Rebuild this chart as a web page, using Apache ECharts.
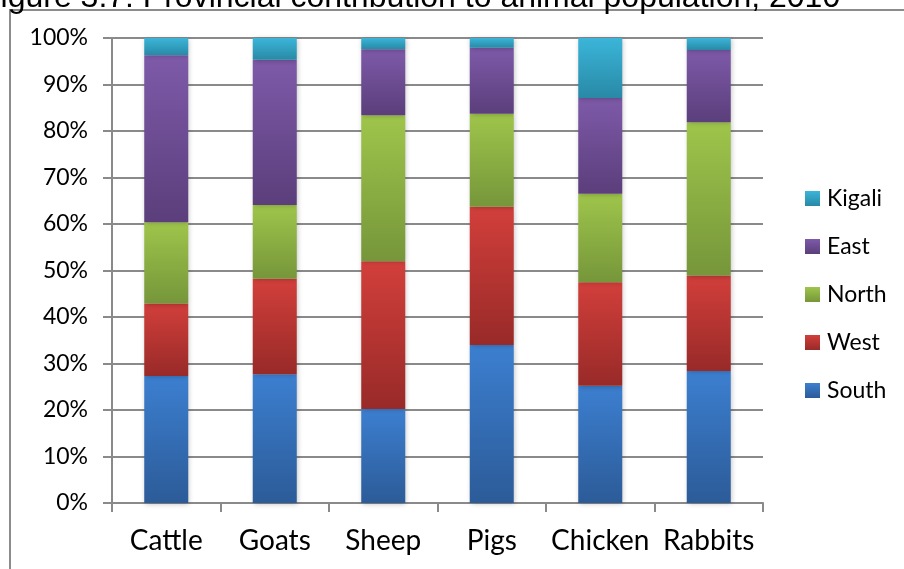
<!DOCTYPE html>
<html>
<head>
<meta charset="utf-8">
<script src="https://cdn.jsdelivr.net/npm/echarts@6/dist/echarts.min.js"></script>
<style>
  html, body { margin: 0; padding: 0; background: #fff; }
  #chart { width: 904px; height: 569px; }
</style>
</head>
<body>
<div id="chart"></div>
<script>
// Provincial share (%) of each animal population, 2010
const categories = ['Cattle', 'Goats', 'Sheep', 'Pigs', 'Chicken', 'Rabbits'];
const south  = [27.3, 27.7, 20.2, 34.0, 25.2, 28.4];
const west   = [15.6, 20.5, 31.8, 29.7, 22.3, 20.5];
const north  = [17.5, 15.9, 31.4, 20.0, 19.0, 33.0];
const east   = [35.9, 31.2, 14.2, 14.2, 20.6, 15.5];
const kigali = [ 3.7,  4.7,  2.4,  2.1, 12.9,  2.6];
const legendOrder = ['Kigali', 'East', 'North', 'West', 'South'];
const yTicks = [0, 10, 20, 30, 40, 50, 60, 70, 80, 90, 100];

const FONT = 'Lato, "Open Sans", sans-serif';
const AXIS_GRAY = '#8a8a8a';

function grad(top, bottom) {
  return new echarts.graphic.LinearGradient(0, 0, 0, 1, [
    { offset: 0, color: top },
    { offset: 1, color: bottom }
  ]);
}

const palette = {
  South:  grad('#3c7fd0', '#2c5b98'),
  West:   grad('#d23f3b', '#982a28'),
  North:  grad('#9fc54b', '#76963a'),
  East:   grad('#7e5aa9', '#5b3e7b'),
  Kigali: grad('#3bb5d9', '#2889a6')
};

const seriesDefs = [
  ['South', south], ['West', west], ['North', north], ['East', east], ['Kigali', kigali]
];

const chart = echarts.init(document.getElementById('chart'), null, { renderer: 'canvas' });

chart.setOption({
  animation: false,
  backgroundColor: '#ffffff',
  graphic: [
    {
      type: 'rect',
      shape: { x: 10, y: 10, width: 1200, height: 1000 },
      style: { fill: 'none', stroke: '#8c8c8c', lineWidth: 2 },
      z: -1
    },
    {
      type: 'text',
      left: -19,
      top: -18,
      style: {
        text: 'Figure 3.7: Provincial contribution to animal population, 2010',
        font: '32px "Liberation Sans", Arial, sans-serif',
        fill: '#000'
      }
    }
  ],
  grid: { left: 112, right: 141, top: 38, bottom: 66, containLabel: false },
  legend: {
    data: legendOrder,
    orient: 'vertical',
    left: 805,
    top: 187,
    padding: 0,
    itemWidth: 15,
    itemHeight: 15,
    itemGap: 25,
    icon: 'rect',
    textStyle: { fontFamily: FONT, fontSize: 23, color: '#000', lineHeight: 22, padding: [0, 0, 0, 2] }
  },
  xAxis: {
    type: 'category',
    data: categories,
    axisLine: { lineStyle: { color: AXIS_GRAY, width: 2 } },
    axisTick: { show: true, length: 9, alignWithLabel: false, lineStyle: { color: AXIS_GRAY, width: 2 } },
    axisLabel: { fontFamily: FONT, fontSize: 28, color: '#000', margin: 24, interval: 0 }
  },
  yAxis: {
    type: 'value',
    min: yTicks[0],
    max: yTicks[yTicks.length - 1],
    interval: 10,
    axisLine: { show: true, lineStyle: { color: AXIS_GRAY, width: 2 } },
    axisTick: { show: true, length: 9, lineStyle: { color: AXIS_GRAY, width: 2 } },
    splitLine: { lineStyle: { color: AXIS_GRAY, width: 2 } },
    axisLabel: { fontFamily: FONT, fontSize: 23, color: '#000', margin: 24, formatter: '{value}%' }
  },
  series: seriesDefs.map(([name, values]) => ({
    name,
    type: 'bar',
    stack: 'share',
    barWidth: 44,
    data: values,
    itemStyle: {
      color: palette[name],
      shadowBlur: 5,
      shadowColor: 'rgba(0,0,0,0.25)',
      shadowOffsetX: 1,
      shadowOffsetY: 1
    }
  }))
});
</script>
</body>
</html>
